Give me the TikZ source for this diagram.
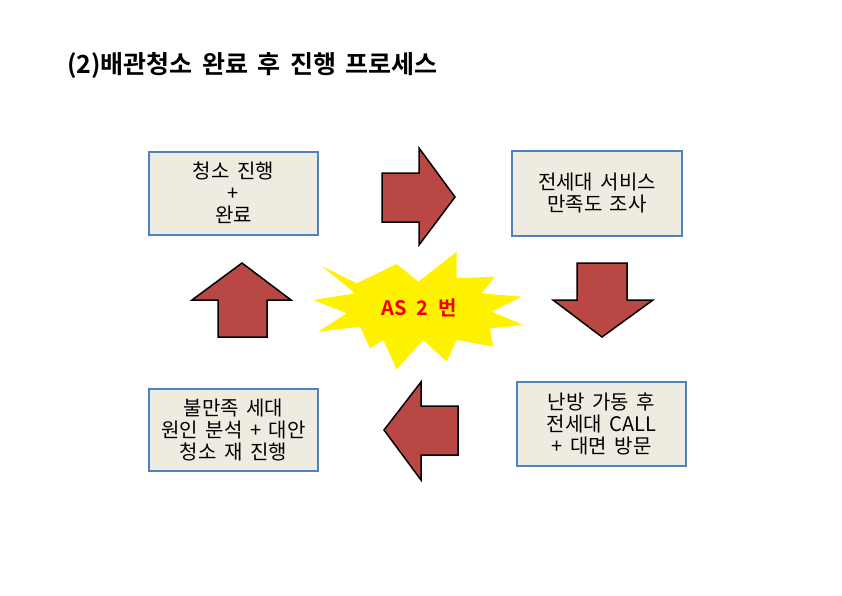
\documentclass[tikz,border=0pt]{standalone}
\usepackage{fontspec}
\setmainfont{Noto Sans CJK KR}
\newfontfamily\krbold{Noto Sans CJK KR Bold}
\definecolor{boxfill}{RGB}{238,236,225}
\definecolor{boxline}{RGB}{79,129,189}
\definecolor{arrowfill}{RGB}{185,72,68}
\definecolor{burstred}{RGB}{240,0,0}
\newcommand{\widesp}{\spaceskip=0.5em plus 0.1em\relax}
\newcommand{\midsp}{\spaceskip=0.38em plus 0.1em\relax}
\begin{document}
\begin{tikzpicture}[x=1pt,y=-1pt,
  stepbox/.style={draw=boxline,line width=2pt,fill=boxfill,align=center,
    inner sep=0pt,font=\fontsize{20}{22}\selectfont\midsp},
  blockarrow/.style={draw=black,line width=1.5pt,fill=arrowfill,line join=miter}]
\useasboundingbox (0,0) rectangle (842,595);
\fill[white] (0,0) rectangle (842,595);
% title
\node[anchor=west,font=\krbold\fontsize{25}{28}\selectfont\midsp,inner sep=0pt] (title) at (67,66) {(2)배관청소 완료 후 진행 프로세스};
% boxes
\node[stepbox,minimum width=169pt,minimum height=83pt] (b1) at (233.5,193) {청소 진행\\+\\완료};
\node[stepbox,minimum width=170pt,minimum height=85pt] (b2) at (597,193.5) {전세대 서비스\\만족도 조사};
\node[stepbox,minimum width=169pt,minimum height=84pt] (b3) at (601.5,424) {난방 가동 후\\전세대 CALL\\+ 대면 방문};
\node[stepbox,minimum width=169pt,minimum height=82pt] (b4) at (233.5,430) {불만족 세대\\원인 분석 + 대안\\청소 재 진행};
% block arrows
\draw[blockarrow] (382,173) -- (419,173) -- (419,148) -- (455,197) -- (419,245) -- (419,222) -- (382,222) -- cycle;
\draw[blockarrow] (577,263) -- (627,263) -- (627,300) -- (653,300) -- (602,337) -- (553,300) -- (577,300) -- cycle;
\draw[blockarrow] (458,406) -- (421,406) -- (421,382) -- (384,430) -- (421,480) -- (421,455) -- (458,455) -- cycle;
\draw[blockarrow] (267,337) -- (218,337) -- (218,300) -- (192,300) -- (242,263) -- (291,300) -- (267,300) -- cycle;
% starburst
\fill[yellow] (321.7,266) -- (356.7,283.3) -- (396.7,264) -- (418.3,281.7) -- (456.7,251.7)
 -- (456.7,278.3) -- (495,276.7) -- (481.7,293.3) -- (521.7,296.7) -- (491.7,311.7)
 -- (523.3,325) -- (490,328.3) -- (493.3,346.7) -- (456.7,340) -- (446.7,361.7)
 -- (423.3,340) -- (396.7,369.3) -- (383.3,340) -- (370,348.3) -- (360,326.7)
 -- (318.3,331.7) -- (346.7,313.3) -- (313.3,300) -- (355,293.3) -- cycle;
\node[text=burstred,font=\krbold\fontsize{20}{22}\selectfont\widesp,inner sep=0pt] (as) at (419,308) {AS 2 번};
\end{tikzpicture}
\end{document}
